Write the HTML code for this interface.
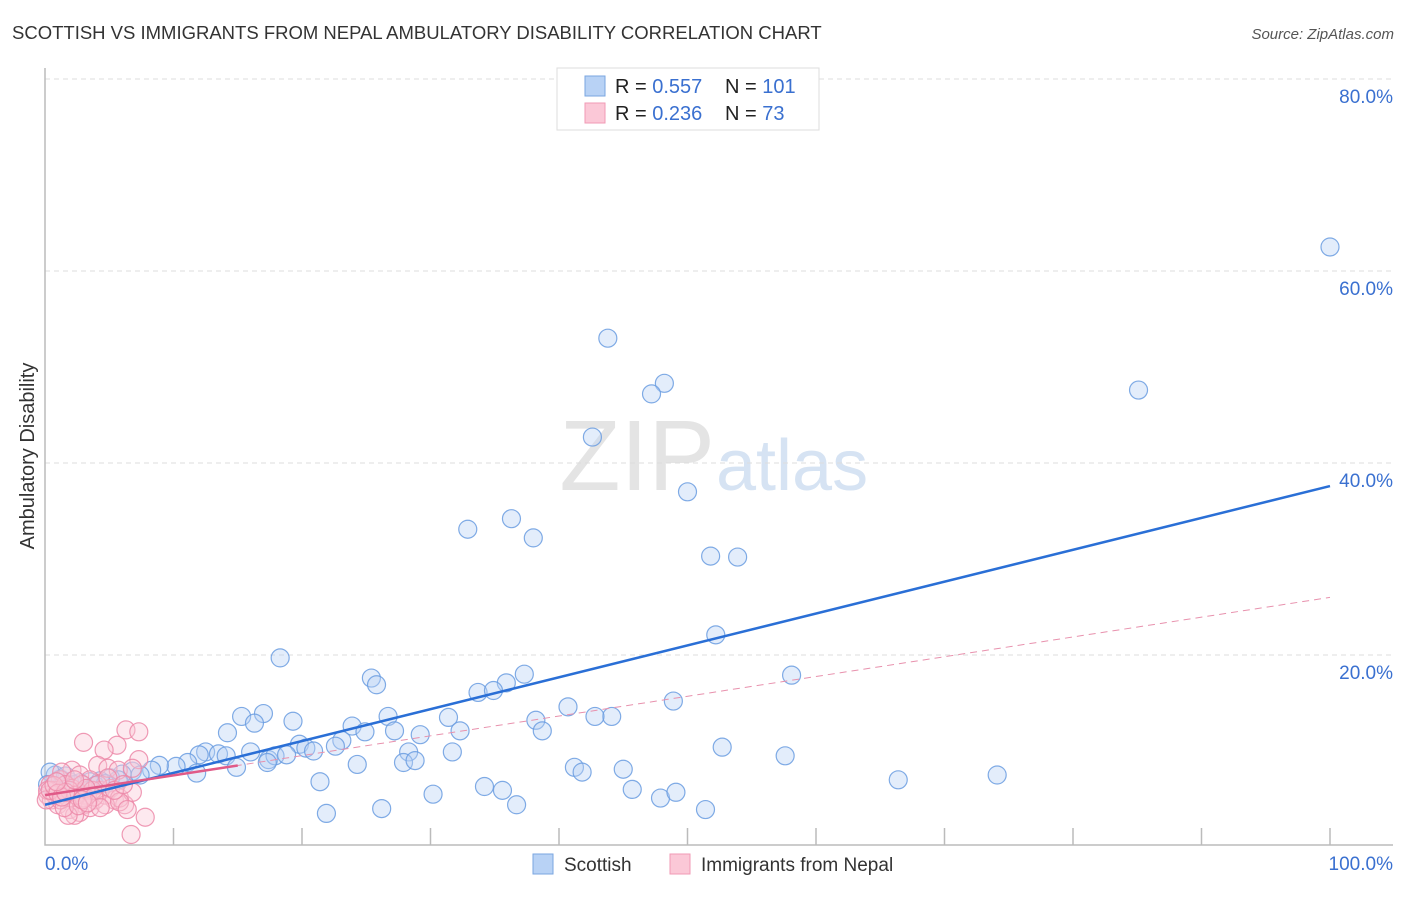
<!DOCTYPE html>
<html><head><meta charset="utf-8"><style>
body{margin:0;background:#fff;font-family:"Liberation Sans",sans-serif}
svg text{font-family:"Liberation Sans",sans-serif}
</style></head><body>
<svg id="c" width="1406" height="892">
<text x="12" y="39" font-size="18.5" fill="#333">SCOTTISH VS IMMIGRANTS FROM NEPAL AMBULATORY DISABILITY CORRELATION CHART</text>
<text x="1394" y="39" font-size="15" fill="#555" font-style="italic" text-anchor="end">Source: ZipAtlas.com</text>
<text x="715" y="490" font-size="100" fill="#e4e4e4" text-anchor="end" font-family="Liberation Serif">ZIP</text>
<text x="716" y="490" font-size="72" fill="#d6e3f3">atlas</text>
<text transform="translate(34,456) rotate(-90)" font-size="20" fill="#333" text-anchor="middle">Ambulatory Disability</text>
<g id="grid"></g><g id="pts"></g><g id="lines"></g>
<g>
<rect x="557" y="68" width="262" height="62" fill="#fff" stroke="#ddd"/>
<rect x="585" y="76" width="20" height="20" fill="#b8d2f5" stroke="#7aa6e0"/>
<rect x="585" y="103" width="20" height="20" fill="#fbc8d7" stroke="#f09ab4"/>
<text x="615" y="93" font-size="20" fill="#222">R = <tspan fill="#3a70d0">0.557</tspan></text>
<text x="725" y="93" font-size="20" fill="#222">N = <tspan fill="#3a70d0">101</tspan></text>
<text x="615" y="120" font-size="20" fill="#222">R = <tspan fill="#3a70d0">0.236</tspan></text>
<text x="725" y="120" font-size="20" fill="#222">N = <tspan fill="#3a70d0"> 73</tspan></text>
</g>
<g>
<rect x="533" y="854" width="20" height="20" fill="#b8d2f5" stroke="#7aa6e0"/>
<text x="564" y="871" font-size="19" fill="#333">Scottish</text>
<rect x="670" y="854" width="20" height="20" fill="#fbc8d7" stroke="#f09ab4"/>
<text x="701" y="871" font-size="19" fill="#333">Immigrants from Nepal</text>
</g>
</svg>
<script>
const yTicks=[20,40,60,80];
const xTickLabels=["0.0%","100.0%"];
const blueX=[100,85.1,43.8,48.2,47.2,42.6,50.0,32.9,36.3,38.0,51.8,53.9,52.2,18.3,58.1,37.3,25.4,25.8,35.9,33.7,34.9,40.7,44.1,48.9,42.8,17.0,15.3,19.3,26.7,31.4,38.2,38.7,23.9,24.9,27.2,29.2,32.3,16.3,14.2,19.8,20.3,23.1,22.6,20.9,16.0,12.5,13.5,14.1,12.0,28.3,31.7,52.7,57.6,17.4,17.9,18.8,17.3,24.3,27.9,28.8,14.9,11.1,10.2,8.9,8.3,11.8,6.8,6.0,5.1,4.3,3.5,2.7,1.9,1.2,0.8,0.4,1.6,2.3,3.9,4.7,41.2,41.8,45.0,66.4,74.1,21.4,34.2,35.6,30.2,45.7,47.9,49.1,36.7,26.2,21.9,51.4,7.4,5.7,3.2,1.0,0.2];
const blueY=[62.5,47.6,53.0,48.3,47.2,42.7,37.0,33.1,34.2,32.2,30.3,30.2,22.1,19.7,17.9,18.0,17.6,16.9,17.1,16.1,16.3,14.6,13.6,15.2,13.6,13.9,13.6,13.1,13.6,13.5,13.2,12.1,12.6,12.0,12.1,11.7,12.1,12.9,11.9,10.7,10.3,11.1,10.5,10.0,9.9,9.9,9.7,9.5,9.6,9.9,9.9,10.4,9.5,9.1,9.5,9.6,8.8,8.6,8.8,9.0,8.3,8.8,8.4,8.5,8.0,7.7,7.9,7.6,7.2,6.9,6.8,6.7,6.8,7.1,7.5,7.8,7.4,6.5,6.4,6.6,8.3,7.8,8.1,7.0,7.5,6.8,6.3,5.9,5.5,6.0,5.1,5.7,4.4,4.0,3.5,3.9,7.5,7.0,5.9,5.9,6.5];
const pinkX=[3.0,5.6,4.6,6.3,7.3,7.3,4.1,4.9,5.7,2.1,2.7,3.5,1.2,0.4,0.8,1.6,2.3,3.1,3.9,4.7,5.4,6.2,0.2,0.5,1.0,1.8,2.6,3.3,4.3,5.1,5.8,6.8,1.9,2.7,3.5,4.7,2.3,1.8,5.8,6.4,7.8,6.7,6.8,1.3,1.6,2.1,2.9,3.7,4.1,0.2,0.8,1.2,1.5,1.9,2.4,3.0,3.2,3.8,0.1,0.4,0.7,1.0,1.3,1.6,2.6,2.9,4.9,5.4,6.1,4.3,0.9,3.3,2.3];
const pinkY=[10.9,10.6,10.1,12.2,12.0,9.1,8.5,8.2,8.0,8.0,7.5,7.0,7.0,6.5,5.9,5.4,4.9,4.4,4.9,5.4,4.9,4.4,5.4,4.9,4.4,5.1,5.7,5.4,5.9,6.1,5.1,5.7,3.9,3.6,4.1,4.4,3.3,3.3,4.7,3.9,3.1,1.3,8.2,7.8,6.5,6.1,6.5,5.9,6.5,5.9,5.4,4.9,4.1,5.9,5.4,5.1,6.1,5.2,4.9,5.9,6.4,5.6,5.2,5.7,4.3,4.9,7.2,5.9,6.5,4.1,6.8,4.6,7.0];
const blueTrend=[4.4,37.6];
const pinkTrend=[5.4,26.0];
const NS='http://www.w3.org/2000/svg';
const X=v=>45+v*12.85, Y=v=>847-v*9.6;
function mk(t,a,p){const e=document.createElementNS(NS,t);for(const k in a)e.setAttribute(k,a[k]);document.getElementById(p).appendChild(e);return e;}
yTicks.forEach(v=>{
 const l=mk('line',{x1:45,x2:1393,y1:Y(v),y2:Y(v),stroke:'#ddd','stroke-dasharray':'5,4'},'grid');
 
 
 const t=mk('text',{x:1393,y:Y(v)+24,'font-size':19,fill:'#3a70d0','text-anchor':'end'},'grid');
 t.textContent=v.toFixed(1)+'%';
 
 
});
const ax=mk('path',{d:'M45 68V845H1393',fill:'none',stroke:'#bbb','stroke-width':1.5},'grid');


for(let i=1;i<=10;i++){
 const tk=mk('line',{x1:X(i*10),x2:X(i*10),y1:828,y2:845,stroke:'#bbb','stroke-width':1.5},'grid');
 
 
}
[[0,'start',45],[100,'end',1393]].forEach((d,i)=>{
 const t=mk('text',{x:d[2],y:870,'font-size':19,fill:'#3a70d0','text-anchor':d[1]},'grid');
 t.textContent=xTickLabels[i];
 
 
});
function pts(xs,ys,fill,stroke,name){xs.forEach((x,i)=>{
 const c=mk('circle',{cx:X(x),cy:Y(ys[i]),r:9,fill:fill,'fill-opacity':0.4,stroke:stroke,'stroke-width':1.2,'stroke-opacity':0.85},'pts');
 
 
});}
pts(blueX,blueY,'#b8d2f5','#6a9ce0','scottish-point');
pts(pinkX,pinkY,'#fbc8d7','#ec88a8','nepal-point');
const bl=mk('line',{x1:X(0),y1:Y(blueTrend[0]),x2:X(100),y2:Y(blueTrend[1]),stroke:'#2a6fd6','stroke-width':2.5},'lines');


const pd=mk('line',{x1:X(0),y1:Y(pinkTrend[0]),x2:X(100),y2:Y(pinkTrend[1]),stroke:'#e891ad','stroke-width':1,'stroke-dasharray':'7,5'},'lines');


const pe=15;
const ps=mk('line',{x1:X(0),y1:Y(pinkTrend[0]),x2:X(pe),y2:Y(pinkTrend[0]+(pinkTrend[1]-pinkTrend[0])*pe/100),stroke:'#e05a88','stroke-width':2.5},'lines');


</script>
</body></html>
